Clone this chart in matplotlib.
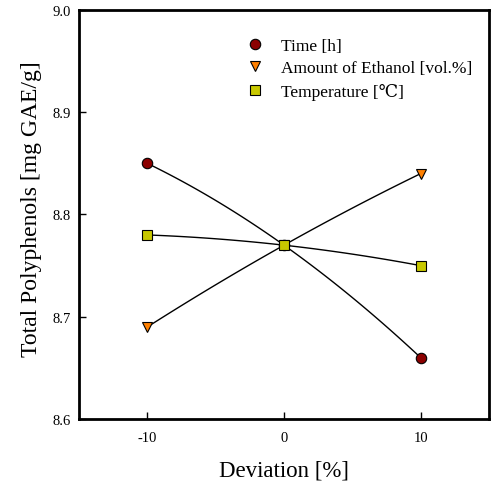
import numpy as np
import matplotlib
matplotlib.use("Agg")
import matplotlib.pyplot as plt
from matplotlib.lines import Line2D

deviation = [-10, 0, 10]
time_h = [8.85, 8.77, 8.66]
ethanol = [8.69, 8.77, 8.84]
temperature = [8.78, 8.77, 8.75]
labels = ["Time [h]", "Amount of Ethanol [vol.%]", "Temperature [\u2103]"]
xticks = [-10, 0, 10]
yticks = [8.6, 8.7, 8.8, 8.9, 9.0]

plt.rcParams['font.family'] = ['Liberation Serif', 'DejaVu Serif']

fig = plt.figure(figsize=(4.94, 4.85), dpi=100)
ax = fig.add_axes([79/494, 1 - 420/485, 410/494, 409/485])

series = [
    (time_h, 'o', '#8B0000', 7.5),
    (ethanol, 'v', '#FF8000', 7.5),
    (temperature, 's', '#C8C800', 7),
]
handles = []
for (vals, mk, col, ms), lab in zip(series, labels):
    coef = np.polyfit(deviation, vals, 2)
    xs = np.linspace(deviation[0], deviation[-1], 100)
    ax.plot(xs, np.polyval(coef, xs), color='black', lw=1.0, zorder=2)
for (vals, mk, col, ms), lab in zip(series, labels):
    ax.plot(deviation, vals, linestyle='none', marker=mk, color=col, ms=ms,
            mec='black', mew=0.8, zorder=3)
    handles.append(Line2D([], [], linestyle='none', marker=mk, color=col, ms=ms,
                          mec='black', mew=0.8, label=lab))

ax.set_xlim(-15, 15)
ax.set_ylim(8.6, 9.0)
ax.set_xticks(xticks)
ax.set_xticklabels([str(t) for t in xticks])
ax.set_yticks(yticks)
ax.set_yticklabels([f"{t:.1f}" for t in yticks])
ax.tick_params(direction='in', length=5, width=1, labelsize=10.5, pad=9)
ax.tick_params(axis='y', pad=6)
for sp in ax.spines.values():
    sp.set_linewidth(2)

ax.set_xlabel("Deviation [%]", fontsize=16.5, labelpad=11)
ax.set_ylabel("Total Polyphenols [mg GAE/g]", fontsize=17)
ax.yaxis.set_label_coords(-0.09, 0.515)

ax.legend(handles=handles, loc='upper left', bbox_to_anchor=(0.36, 0.97),
          frameon=False, fontsize=12.5, handletextpad=0.75, labelspacing=0.36,
          handlelength=1.5)

fig.savefig("out.png", dpi=100)
